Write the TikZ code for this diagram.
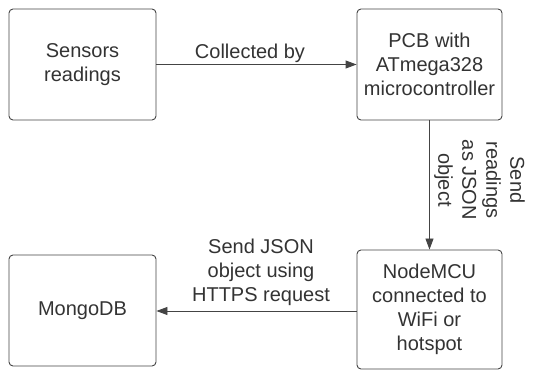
\documentclass[tikz,border=0pt]{standalone}
\usepackage{fontspec}
\setmainfont{Liberation Sans}
\usetikzlibrary{arrows.meta}
\definecolor{inkgray}{HTML}{333333}
\definecolor{linegray}{HTML}{444444}
\tikzset{
  block/.style={draw=linegray, line width=0.9pt, rounded corners=4pt,
    align=center, text=inkgray, inner sep=0pt},
  flow/.style={draw=linegray, line width=0.9pt,
    -{Triangle[length=11pt,width=8pt]}},
  note/.style={align=center, text=inkgray}
}
\begin{document}
\begin{tikzpicture}[x=1pt, y=-1pt, font=\fontsize{20}{24}\selectfont]
    \useasboundingbox (0,0) rectangle (533,371);
    % boxes
    \node[block, minimum width=147pt, minimum height=111pt] (sensors) at (82.5,64.5) {Sensors\\readings};
    \node[block, minimum width=145pt, minimum height=111pt] (pcb) at (429.5,64.5) {PCB with\\ATmega328\\microcontroller};
    \node[block, minimum width=145pt, minimum height=119pt] (nodemcu) at (429.5,309.5) {NodeMCU\\connected to\\WiFi or\\hotspot};
    \node[block, minimum width=147pt, minimum height=111pt] (mongo) at (82.5,310.5) {MongoDB};
    % connectors
    \draw[flow] (sensors) -- (pcb);
    \draw[flow] (pcb) -- (nodemcu);
    \draw[flow] (nodemcu.west |- 0,311) -- (mongo.east |- 0,311);
    % labels
    \node[note] (collected) at (250,53) {Collected by};
    \node[note, rotate=-90] (sendjson) at (479.5,180) {Send\\readings\\as JSON\\object};
    \node[note] (https) at (261,272) {Send JSON\\object using\\HTTPS request};
\end{tikzpicture}
\end{document}
